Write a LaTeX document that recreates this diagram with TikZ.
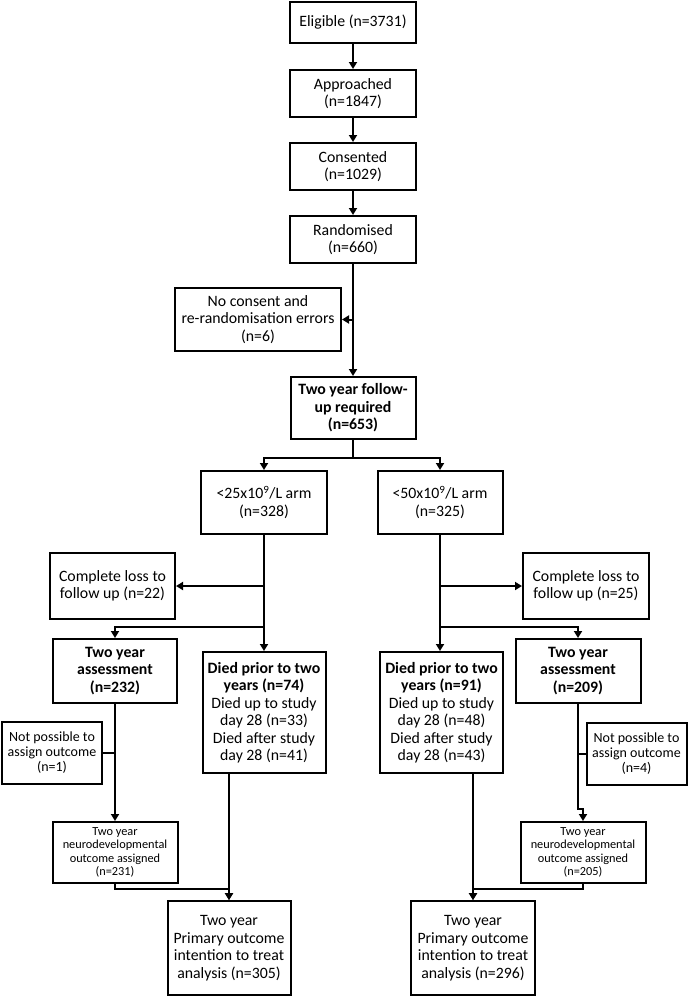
\documentclass[tikz,border=0pt]{standalone}
\usepackage{fontspec}
\setmainfont{Carlito}
\usetikzlibrary{arrows.meta}

\begin{document}
\begin{tikzpicture}[x=1pt, y=-1pt, line width=2pt, >={Triangle[length=7pt,width=8pt]},
  box/.style={draw, align=center, inner sep=1pt, font=\fontsize{15.8}{17.5}\selectfont},
  mid/.style={box, font=\fontsize{14}{15}\selectfont},
  small/.style={box, font=\fontsize{12.3}{13.3}\selectfont}]
\useasboundingbox (0,0) rectangle (688,997);

% main column
\node (elig) at (353,22) [box, minimum width=126pt, minimum height=41pt] {Eligible (n=3731)};
\node (appr) at (353,93.5) [box, minimum width=126pt, minimum height=47pt] {Approached\\(n=1847)};
\node (cons) at (353,166.5) [box, minimum width=126pt, minimum height=47pt] {Consented\\(n=1029)};
\node (rand) at (353,239.5) [box, minimum width=126pt, minimum height=47pt] {Randomised\\(n=660)};
\node (nocons) at (258,319.5) [box, minimum width=166pt, minimum height=63pt] {No consent and\\re-randomisation errors\\(n=6)};
\node (follow) at (353,408) [box, minimum width=125pt, minimum height=62pt] {\textbf{Two year follow-}\\\textbf{up required}\\\textbf{(n=653)}};

% arms
\node (arm25) at (264,502.5) [box, minimum width=126pt, minimum height=63pt] {<25x10\textsuperscript{9}/L arm\\(n=328)};
\node (arm50) at (440,502.5) [box, minimum width=125pt, minimum height=63pt] {<50x10\textsuperscript{9}/L arm\\(n=325)};

\node (loss22) at (112.5,586) [box, minimum width=125pt, minimum height=66pt] {Complete loss to\\follow up (n=22)};
\node (loss25) at (586,586) [box, minimum width=126pt, minimum height=66pt] {Complete loss to\\follow up (n=25)};

\node (ass232) at (115,671) [box, minimum width=124pt, minimum height=64pt] {\textbf{Two year}\\\textbf{assessment}\\\textbf{(n=232)}};
\node (ass209) at (578,671) [box, minimum width=125pt, minimum height=64pt] {\textbf{Two year}\\\textbf{assessment}\\\textbf{(n=209)}};

\node (died74) at (264,712.5) [box, minimum width=123pt, minimum height=121pt] {\textbf{Died prior to two}\\\textbf{years (n=74)}\\Died up to study\\day 28 (n=33)\\Died after study\\day 28 (n=41)};
\node (died91) at (441.5,712.5) [box, minimum width=123pt, minimum height=121pt] {\textbf{Died prior to two}\\\textbf{years (n=91)}\\Died up to study\\day 28 (n=48)\\Died after study\\day 28 (n=43)};

\node (np1) at (52,753) [mid, minimum width=100pt, minimum height=62pt] {Not possible to\\assign outcome\\(n=1)};
\node (np4) at (636.5,754) [mid, minimum width=100pt, minimum height=62pt] {Not possible to\\assign outcome\\(n=4)};

\node (nd231) at (115,852.5) [small, minimum width=125pt, minimum height=61pt] {Two year\\neurodevelopmental\\outcome assigned\\(n=231)};
\node (nd205) at (583,852.5) [small, minimum width=125pt, minimum height=61pt] {Two year\\neurodevelopmental\\outcome assigned\\(n=205)};

\node (pri305) at (229,948) [box, minimum width=123pt, minimum height=94pt] {Two year\\Primary outcome\\intention to treat\\analysis (n=305)};
\node (pri296) at (473,948) [box, minimum width=124pt, minimum height=94pt] {Two year\\Primary outcome\\intention to treat\\analysis (n=296)};

% connectors
\draw[->] (elig) -- (appr);
\draw[->] (appr) -- (cons);
\draw[->] (cons) -- (rand);
\draw[->] (rand) -- (follow);
\draw[->] (rand.south |- nocons.east) -- (nocons.east);
\draw[->] (follow.south) -- ++(0,18) -| (arm25.north);
\draw[->] (follow.south) -- ++(0,18) -| (arm50.north);

\draw[->] (arm25.south) -- (died74.north);
\draw[->] (arm25.south |- loss22.east) -- (loss22.east);
\draw[->] (arm25.south |- 0,627) -| (ass232.north);
\draw[->] (arm50.south) -- (arm50.south |- died91.north);
\draw[->] (arm50.south |- loss25.west) -- (loss25.west);
\draw[->] (arm50.south |- 0,627) -| (ass209.north);

\draw[->] (ass232.south) -- (nd231.north);
\draw (np1.east) -- (np1.east -| ass232.south);
\draw[->] (ass209.south) |- ([yshift=12pt]nd205.north) -- (nd205.north);
\draw (np4.west) -- (np4.west -| ass209.south);

\draw[->] (pri305.north |- died74.south) -- (pri305.north);
\draw[->] (nd231.south) -- ++(0,5) -| (pri305.north);
\draw[->] (pri296.north |- died91.south) -- (pri296.north);
\draw[->] (nd205.south) -- ++(0,5) -| (pri296.north);
\end{tikzpicture}
\end{document}
